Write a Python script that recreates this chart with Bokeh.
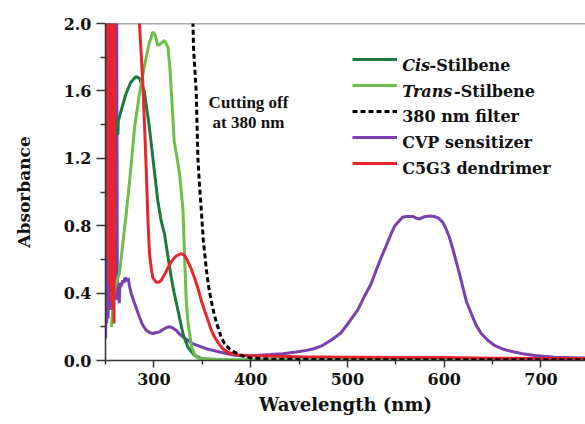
from bokeh.plotting import figure
from bokeh.models import Range1d, FixedTicker, PrintfTickFormatter, Legend, LegendItem, Label, Span
from bokeh.embed import file_html
from bokeh.resources import INLINE

# ---------------- data ----------------
cis_wl = [262.8, 263.2, 266, 271, 276, 281.5, 285, 290, 295, 299, 304, 307.5, 311, 315, 318,
          321, 324.8, 330, 335, 342, 350, 370, 400, 500, 600, 746]
cis_abs = [1.34, 1.42, 1.48, 1.58, 1.65, 1.685, 1.675, 1.60, 1.40, 1.20, 0.95, 0.83, 0.75, 0.60,
           0.49, 0.40, 0.30, 0.16, 0.08, 0.03, 0.01, 0.005, 0.003, 0.002, 0.002, 0.002]

trans_wl = [256, 259, 261.5, 264.5, 268, 271, 275, 280, 285, 290, 295, 299, 301.5, 304, 307, 311,
            314.5, 316.5, 318.5, 321, 324, 326.5, 330, 331.5, 333.4, 335, 336.8, 339, 341.7, 345,
            350, 370, 400, 500, 746]
trans_abs = [0.20, 0.40, 0.47, 0.52, 0.70, 0.85, 1.07, 1.38, 1.58, 1.74, 1.88, 1.95, 1.93, 1.87,
             1.88, 1.90, 1.86, 1.74, 1.55, 1.30, 1.20, 1.11, 0.90, 0.65, 0.36, 0.24, 0.16, 0.08,
             0.04, 0.015, 0.008, 0.004, 0.003, 0.002, 0.002]

filter_wl = [339.5, 341, 343.7, 345.5, 347, 348.9, 351, 354, 356.5, 359.2, 362.5, 366, 369.5, 373,
             378, 383.3, 390, 400, 420, 500, 600, 746]
filter_abs = [2.2, 1.85, 1.6, 1.2, 1.05, 0.90, 0.72, 0.55, 0.44, 0.355, 0.27, 0.20, 0.14, 0.10,
              0.07, 0.05, 0.03, 0.015, 0.008, 0.005, 0.004, 0.004]

cvp_wl = [250.2, 250.7, 251.3, 252, 252.7, 253.5, 254.3, 255, 255.8, 256.6, 257.4, 258.2, 259,
          259.8, 260.6, 261.4, 262.2, 263, 263.6, 264.2, 265, 266, 268, 269, 270, 271.5, 272.5,
          273.5, 274.8, 277, 280, 285, 288, 292, 296, 299, 302, 305.8, 310, 313, 316, 319, 323,
          326, 330, 335, 340, 347, 354, 361, 368, 376, 385, 395, 405, 420, 433, 447, 458, 465,
          472.8, 483, 493.5, 502, 510.7, 517, 524.5, 530, 534.8, 540, 545, 549, 553.7, 557,
          560.6, 564, 567.5, 571, 574.4, 578, 581.3, 585.5, 589.9, 594, 598.6, 602, 605.4, 609,
          612.3, 616, 619.2, 623, 627.8, 633, 638.2, 645, 651.9, 662, 672.5, 683, 693.2, 703,
          713.8, 725, 741, 746]
cvp_abs = [0.13, 2.6, 0.22, 2.6, 0.25, 2.6, 0.30, 2.6, 0.30, 2.6, 0.35, 2.6, 0.43, 2.6, 0.36,
           2.6, 0.40, 0.36, 0.45, 0.34, 0.46, 0.44, 0.475, 0.46, 0.49, 0.485, 0.47, 0.49, 0.44,
           0.39, 0.34, 0.26, 0.215, 0.18, 0.165, 0.16, 0.165, 0.17, 0.185, 0.195, 0.20, 0.195,
           0.18, 0.16, 0.14, 0.12, 0.10, 0.085, 0.07, 0.06, 0.05, 0.04, 0.03, 0.028, 0.03, 0.035,
           0.04, 0.05, 0.06, 0.07, 0.085, 0.12, 0.165, 0.23, 0.30, 0.375, 0.455, 0.54, 0.61,
           0.68, 0.75, 0.80, 0.83, 0.85, 0.855, 0.855, 0.855, 0.845, 0.84, 0.85, 0.855, 0.857,
           0.855, 0.845, 0.82, 0.78, 0.73, 0.66, 0.59, 0.51, 0.435, 0.35, 0.28, 0.21, 0.16, 0.12,
           0.09, 0.065, 0.05, 0.038, 0.03, 0.025, 0.02, 0.018, 0.015, 0.015]

c5g3_wl = [252, 252.8, 253.5, 254.3, 255, 255.8, 256.5, 257.3, 258, 258.8, 259.5, 262, 270, 280,
           284, 285.1, 286.8, 288.6, 290.3, 292, 293.8, 295.5, 297.5, 299, 302.4, 305, 307.5, 311,
           314.5, 319, 323, 328.2, 331.5, 335, 338.5, 342, 345.5, 349, 352.5, 355.8, 359, 362.7,
           367, 371.3, 376, 381.7, 388, 395.5, 405, 419, 450, 500, 550, 600, 650, 700, 746]
c5g3_abs = [2.6, 0.6, 2.6, 0.45, 2.6, 0.35, 2.6, 0.30, 2.6, 0.22, 2.6, 2.6, 2.9, 2.6, 2.15, 2.0,
            1.83, 1.64, 1.40, 1.15, 0.84, 0.63, 0.54, 0.49, 0.465, 0.465, 0.475, 0.51, 0.55,
            0.595, 0.62, 0.635, 0.625, 0.59, 0.545, 0.49, 0.43, 0.355, 0.295, 0.24, 0.185, 0.14,
            0.10, 0.07, 0.05, 0.04, 0.033, 0.03, 0.028, 0.027, 0.022, 0.02, 0.018, 0.018, 0.014,
            0.012, 0.012]

x_major = [300, 400, 500, 600, 700]
x_minor = [250, 350, 450, 550, 650, 750]
y_major = [0.0, 0.4, 0.8, 1.2, 1.6, 2.0]
y_minor = [0.2, 0.6, 1.0, 1.4, 1.8]

# ---------------- figure ----------------
FONT = "DejaVu Serif"
X0, X1 = 250, 746
FL, FT, FB = 105, 23, 360          # frame left / top / bottom (page px)
p = figure(width=585, height=424, output_backend="svg", toolbar_location=None,
           x_range=Range1d(X0, X1), y_range=Range1d(0, 2.0),
           min_border_left=FL, min_border_right=0, min_border_top=FT, min_border_bottom=424 - FB)
p.outline_line_color = None
p.xgrid.visible = False
p.ygrid.visible = False
p.background_fill_color = "white"
p.border_fill_color = "white"

for ax, lab, size in ((p.xaxis[0], "Wavelength (nm)", "18px"), (p.yaxis[0], "Absorbance", "17px")):
    ax.axis_label = lab
    ax.axis_label_text_font = FONT
    ax.axis_label_text_font_style = "bold"
    ax.axis_label_text_font_size = size
    ax.axis_label_text_color = "#111111"
    ax.major_label_text_font = FONT
    ax.major_label_text_font_style = "bold"
    ax.major_label_text_font_size = "16px"
    ax.major_label_text_color = "#111111"
    ax.axis_line_color = "#333333"
    ax.axis_line_width = 1.5
    ax.major_tick_line_color = "#333333"
    ax.minor_tick_line_color = "#333333"
    ax.major_tick_line_width = 1.5
    ax.minor_tick_line_width = 1.5
    ax.major_tick_in = 0
    ax.minor_tick_in = 0

p.xaxis[0].ticker = FixedTicker(ticks=x_major, minor_ticks=x_minor)
p.xaxis[0].major_tick_out = 7
p.xaxis[0].minor_tick_out = 4
p.xaxis[0].major_label_standoff = 5
p.xaxis[0].axis_label_standoff = 6

p.yaxis[0].ticker = FixedTicker(ticks=y_major, minor_ticks=y_minor)
p.yaxis[0].formatter = PrintfTickFormatter(format="%.1f")
p.yaxis[0].major_tick_out = 9
p.yaxis[0].minor_tick_out = 5
p.yaxis[0].major_label_standoff = 5
p.yaxis[0].axis_label_standoff = 27

p.add_layout(Span(location=2.0, dimension="width", line_color="#555555", line_width=1.5))

# ---------------- curves ----------------
r_cvp = p.line(cvp_wl, cvp_abs, line_color="#7b3fae", line_width=3)
r_cis = p.line(cis_wl, cis_abs, line_color="#1b7a3c", line_width=3)
r_trans = p.line(trans_wl, trans_abs, line_color="#6cbf48", line_width=3)
r_red = p.line(c5g3_wl, c5g3_abs, line_color="#e8242c", line_width=3)
r_filter = p.line(filter_wl, filter_abs, line_color="black", line_width=3, line_dash="5 3")

# ---------------- legend (samples) ----------------
items = [LegendItem(label=" ", renderers=[r]) for r in (r_cis, r_trans, r_filter, r_cvp, r_red)]
legend = Legend(items=items, location=(246.7, 186.7), padding=0, margin=0, spacing=6,
                glyph_width=45, glyph_height=20, label_height=20, label_width=1,
                label_standoff=5, label_text_font_size="10px",
                border_line_alpha=0, background_fill_alpha=0)
p.add_layout(legend, "center")

# page px -> data helpers for text placement
def dx(sx):
    return X0 + (sx - FL) * (X1 - X0) / (585.0 - FL)

def dy(sy):
    return (FB - sy) * 2.0 / (FB - FT)

def txt(x, y, t, style="bold", size="16px", font=FONT, align="left"):
    p.add_layout(Label(x=x, y=y, text=t, text_font=font, text_font_style=style,
                       text_font_size=size, text_color="#111111", text_align=align,
                       text_baseline="alphabetic"))

txt(dx(401.7), dy(65), "Cis", style="bold italic")
txt(dx(429.0), dy(65), "-Stilbene")
txt(dx(401.7), dy(90.7), "Trans", style="bold italic")
txt(dx(453.5), dy(90.7), "-Stilbene")
txt(dx(401.7), dy(116.3), "380 nm filter")
txt(dx(401.7), dy(142), "CVP sensitizer")
txt(dx(401.7), dy(168), "C5G3 dendrimer")

txt(dx(248), dy(101.7), "Cutting off", font="Liberation Serif", size="17px", align="center")
txt(dx(248), dy(121.7), "at 380 nm", font="Liberation Serif", size="17px", align="center")

open("out.html", "w").write(file_html(p, INLINE))
